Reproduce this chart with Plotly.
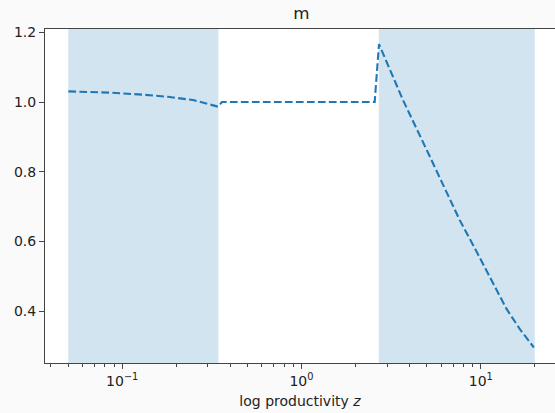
import plotly.graph_objects as go

# ---- data ----
z_vals = [0.0501, 0.0855, 0.131, 0.18, 0.249, 0.30, 0.343,
          0.36, 0.6, 1.0, 1.6, 2.56,
          2.706, 3.68, 5.0, 6.03, 7.62, 9.04, 11.21, 13.87, 16.45, 17.88, 19.77]
m_vals = [1.0306, 1.027, 1.021, 1.015, 1.0057, 0.995, 0.9866,
          1.0, 1.0, 1.0, 1.0, 1.0,
          1.166, 1.006, 0.862, 0.772, 0.662, 0.591, 0.500, 0.408, 0.350, 0.324, 0.296]
shaded_regions = [(0.05, 0.344), (2.70, 20.0)]
x_tick_vals = [0.1, 1, 10]
x_tick_text = ["10<sup>−1</sup>", "10<sup>0</sup>", "10<sup>1</sup>"]
y_tick_vals = [0.4, 0.6, 0.8, 1.0, 1.2]
minor_vals = [m * 10 ** e for e in (-2, -1, 0, 1) for m in range(2, 10)]

fig = go.Figure()
fig.add_trace(go.Scatter(
    x=z_vals, y=m_vals, mode="lines",
    line=dict(color="#1f77b4", width=2.1, dash="7.7px,3.3px"),
    showlegend=False,
))

for x0, x1 in shaded_regions:
    fig.add_shape(type="rect", xref="x", yref="paper", x0=x0, x1=x1, y0=0, y1=1,
                  fillcolor="#d2e4f0", line=dict(width=0), layer="below")

axis_col = "#444444"
fig.update_layout(
    width=555, height=413,
    margin=dict(l=45, r=0, t=29, b=50),
    paper_bgcolor="#fafafa", plot_bgcolor="white",
    font=dict(family="DejaVu Sans", size=14, color="#222222"),
    title=dict(text="m", x=301.5 / 555, xref="container", xanchor="center",
               y=1 - 13 / 413, yref="container", yanchor="middle",
               font=dict(size=16.7, color="#222222")),
    xaxis=dict(type="log", range=[-1.4306, 1.414],
               tickvals=x_tick_vals, ticktext=x_tick_text,
               ticks="outside", ticklen=5, tickwidth=0.8, tickcolor=axis_col,
               showline=True, linecolor=axis_col, linewidth=1, mirror=True,
               showgrid=False, zeroline=False,
               minor=dict(tickvals=minor_vals, ticks="outside", ticklen=3,
                          tickwidth=0.8, tickcolor=axis_col, showgrid=False),
               title=dict(text="log productivity <i>z</i>", standoff=8,
                          font=dict(size=14))),
    yaxis=dict(range=[0.2515, 1.2095], tickvals=y_tick_vals, tickformat=".1f",
               ticks="outside", ticklen=5, tickwidth=0.8, tickcolor=axis_col,
               showline=True, linecolor=axis_col, linewidth=1,
               showgrid=False, zeroline=False),
)

fig.write_html("out.html")
